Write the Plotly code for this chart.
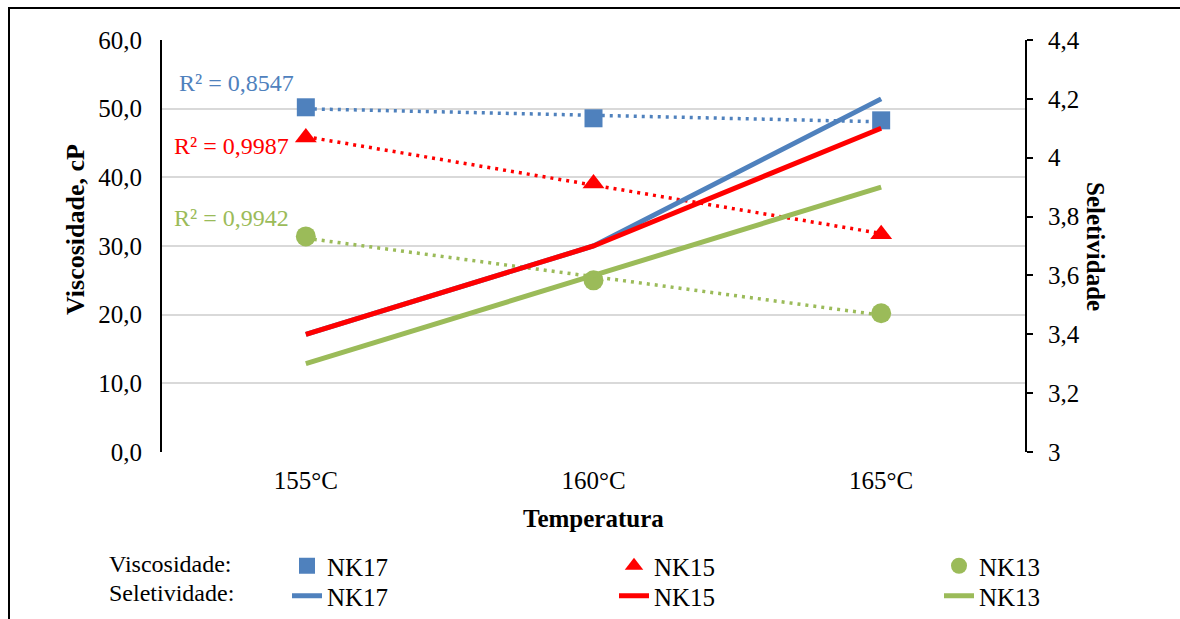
import numpy as np
import plotly.graph_objects as go

# Categories (reaction temperature)
temperaturas = ["155°C", "160°C", "165°C"]
series = ["NK17", "NK15", "NK13"]

# Viscosity, cP (left axis, markers + linear trendline)
visc_nk17 = [50.2, 48.6, 48.3]
visc_nk15 = [45.8, 39.1, 31.7]
visc_nk13 = [31.4, 25.0, 20.2]

# Selectivity (right axis, solid lines)
selet_nk17 = [3.4, 3.7, 4.2]
selet_nk15 = [3.4, 3.7, 4.1]
selet_nk13 = [3.3, 3.6, 3.9]

# Coefficients of determination shown next to each trendline
r2_labels = ["R² = 0,8547", "R² = 0,9987", "R² = 0,9942"]

# Axis tick labels (comma as decimal separator)
y1_ticks = [0, 10, 20, 30, 40, 50, 60]
y1_ticktext = ["0,0", "10,0", "20,0", "30,0", "40,0", "50,0", "60,0"]
y2_ticks = [3.0, 3.2, 3.4, 3.6, 3.8, 4.0, 4.2, 4.4]
y2_ticktext = ["3", "3,2", "3,4", "3,6", "3,8", "4", "4,2", "4,4"]

colors = ["#4F81BD", "#FF0000", "#9BBB59"]
symbols = ["square", "triangle-up", "circle"]
msizes = [18, 19, 20]
FONT = "Liberation Serif"
FS = 25

# Plot-area geometry in pixels and helpers to convert to paper coordinates
W, H = 1180, 619
PL, PR, PT, PB = 162, 1025, 40, 452
PW, PH = PR - PL, PB - PT


def px(x):
    return (x - PL) / PW


def py(y):
    return (PB - y) / PH


visc = [visc_nk17, visc_nk15, visc_nk13]
selet = [selet_nk17, selet_nk15, selet_nk13]
xi = np.arange(len(temperaturas))

fig = go.Figure()

# Linear trendlines of viscosity (dotted), fitted on category index
for v, c in zip(visc, colors):
    k, b = np.polyfit(xi, v, 1)
    fig.add_trace(go.Scatter(
        x=[xi[0], xi[-1]], y=[k * xi[0] + b, k * xi[-1] + b],
        mode="lines", line=dict(color=c, width=3.5, dash="3px,5px"),
        showlegend=False, hoverinfo="skip", yaxis="y"))

# Each legend entry gets its own single-item legend box
legend_x_text = [329, 656, 981]          # left edge of entry labels
row_y = [566, 596]                       # centre of legend rows
marker_legends = ["legend", "legend2", "legend3"]
line_legends = ["legend4", "legend5", "legend6"]

# Selectivity lines on the secondary axis
for name, s, c, lg in zip(series, selet, colors, line_legends):
    fig.add_trace(go.Scatter(
        x=xi, y=s, mode="lines", name=name,
        line=dict(color=c, width=5), yaxis="y2", legend=lg))

# Viscosity markers
for name, v, c, sym, ms, lg in zip(series, visc, colors, symbols, msizes, marker_legends):
    fig.add_trace(go.Scatter(
        x=xi, y=v, mode="markers", name=name,
        marker=dict(color=c, symbol=sym, size=ms, line=dict(width=0)),
        yaxis="y", legend=lg))

legend_layout = {}
for row, names in enumerate([marker_legends, line_legends]):
    for lg, tx in zip(names, legend_x_text):
        legend_layout[lg] = dict(
            orientation="h", x=px(tx - 42), y=py(row_y[row]),
            xanchor="left", yanchor="middle", bgcolor="rgba(0,0,0,0)",
            borderwidth=0, font=dict(family=FONT, size=FS, color="black"),
            itemclick=False, itemdoubleclick=False)

annotations = []
# R² labels
for txt, c, (ax, ay) in zip(r2_labels, colors, [(236, 83), (231, 146), (231, 218)]):
    annotations.append(dict(text=txt, x=px(ax), y=py(ay), xref="paper", yref="paper",
                            xanchor="center", yanchor="middle", showarrow=False,
                            font=dict(family=FONT, size=24, color=c)))


def label(text, x, y, angle=0, anchor="center", size=FS):
    return dict(text=text, x=px(x), y=py(y), xref="paper", yref="paper",
                xanchor=anchor, yanchor="middle", showarrow=False, textangle=angle,
                font=dict(family=FONT, size=size, color="black"))


annotations += [
    label("<b>Viscosidade, cP</b>", 75, 230, angle=-90, size=26),
    label("<b>Seletividade</b>", 1096, 246, angle=90),
    label("<b>Temperatura</b>", 593, 518),
    label("Viscosidade:", 107, 564, anchor="left", size=24),
    label("Seletividade:", 107, 593, anchor="left", size=24),
]

fig.update_layout(
    width=W, height=H,
    margin=dict(l=PL, r=W - PR, t=PT, b=H - PB, autoexpand=False),
    paper_bgcolor="white", plot_bgcolor="white",
    font=dict(family=FONT, size=FS, color="black"),
    xaxis=dict(range=[-0.5, 2.5], tickvals=xi, ticktext=temperaturas,
               showgrid=False, zeroline=False, showline=False, ticks="",
               ticklabelstandoff=11, tickfont=dict(size=FS)),
    yaxis=dict(range=[0, 60], tickvals=y1_ticks, ticktext=y1_ticktext,
               showgrid=True, gridcolor="#D9D9D9", gridwidth=2, zeroline=False,
               showline=True, linecolor="black", linewidth=2, ticks="",
               ticklabelstandoff=13, tickfont=dict(size=FS)),
    yaxis2=dict(range=[3, 4.4], tickvals=y2_ticks, ticktext=y2_ticktext,
                overlaying="y", side="right", showgrid=False, zeroline=False,
                showline=True, linecolor="black", linewidth=2,
                ticks="outside", ticklen=6, tickwidth=2, tickcolor="black",
                ticklabelstandoff=10, tickfont=dict(size=FS)),
    annotations=annotations,
    shapes=[dict(type="rect", xref="paper", yref="paper",
                 x0=px(9), x1=px(1190), y0=py(640), y1=py(8),
                 line=dict(color="black", width=2), fillcolor="rgba(0,0,0,0)",
                 layer="below")],
    **legend_layout,
)

fig.write_html("out.html")
